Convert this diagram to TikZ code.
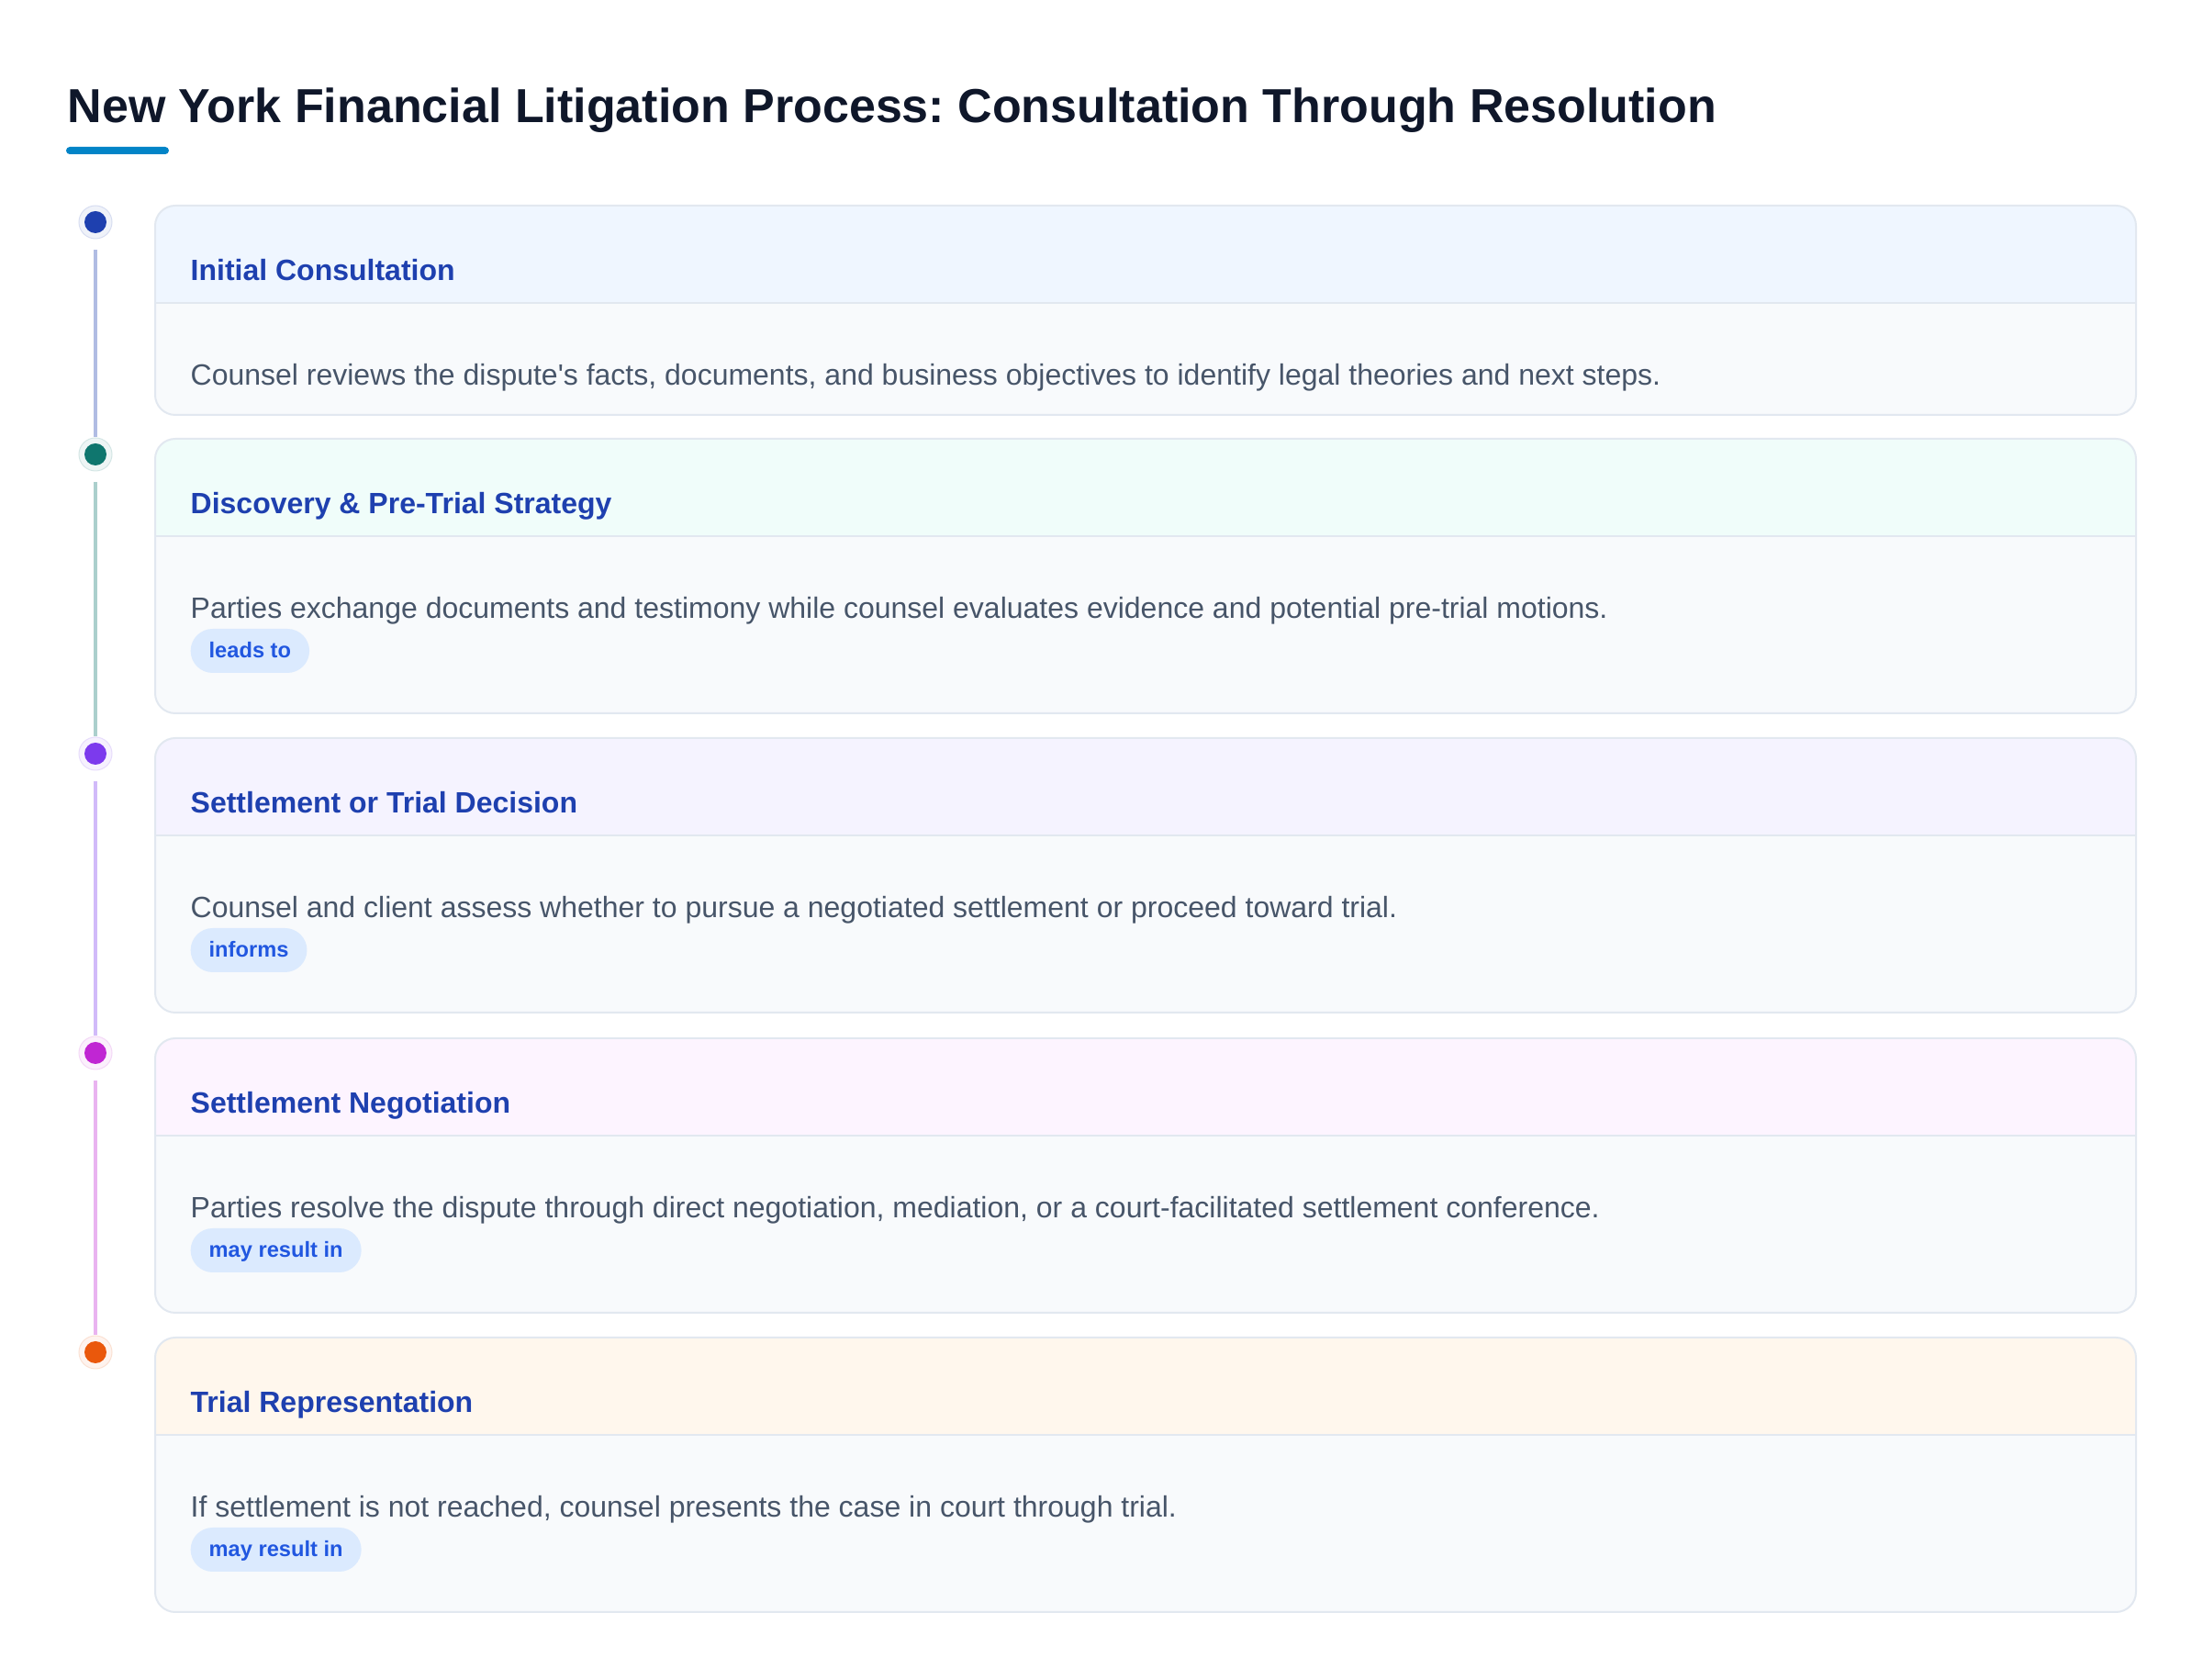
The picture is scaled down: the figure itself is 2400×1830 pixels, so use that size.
\documentclass[tikz,border=0pt]{standalone}
\usepackage{fontspec}
\setmainfont{Liberation Sans}
\usetikzlibrary{calc}
\frenchspacing
\definecolor{titlec}{HTML}{0F172A}
\definecolor{barc}{HTML}{0284C7}
\definecolor{headtxt}{HTML}{1E40AF}
\definecolor{bodytxt}{HTML}{475569}
\definecolor{bodyc}{HTML}{F8FAFC}
\definecolor{borderc}{HTML}{E2E8F0}
\definecolor{pillc}{HTML}{DBEAFE}
\definecolor{pilltxt}{HTML}{2157E0}
\definecolor{hA}{HTML}{EFF6FF}
\definecolor{hB}{HTML}{F0FDFA}
\definecolor{hC}{HTML}{F5F3FF}
\definecolor{hD}{HTML}{FDF4FF}
\definecolor{hE}{HTML}{FFF7ED}
\definecolor{dA}{HTML}{1E40AF}
\definecolor{dB}{HTML}{0F766E}
\definecolor{dC}{HTML}{7C3AED}
\definecolor{dD}{HTML}{C026D3}
\definecolor{dE}{HTML}{EA580C}
\newcommand\mycard[6]{%
  \path[fill=bodyc, rounded corners=6.6pt] (169,#2) rectangle (2327,#3);
  \begin{scope}
    \clip[rounded corners=6.6pt] (169,#2) rectangle (2327,#3);
    \fill[#4] (169,#2) rectangle (2327,#2+106);
  \end{scope}
  \draw[borderc, line width=0.6pt] (169,#2+106) -- (2327,#2+106);
  \draw[borderc, line width=0.6pt, rounded corners=6.6pt] (169,#2) rectangle (2327,#3);
  \node[headstyle] (#1t) at (207,#2+82) {#5};
  \node[bodystyle] (#1b) at (207,#2+196) {#6};
}
\begin{document}
\begin{tikzpicture}[x=0.3pt,y=-0.3pt,
  headstyle/.style={anchor=base west, inner sep=0, text=headtxt, font=\fontsize{9.6pt}{11pt}\selectfont\bfseries},
  bodystyle/.style={anchor=base west, inner sep=0, text=bodytxt, font=\fontsize{9.6pt}{11pt}\selectfont},
  pill/.style={anchor=west, fill=pillc, text=pilltxt, rounded corners=7.2pt, minimum height=14.4pt, inner xsep=6.0pt, inner ysep=0pt, text height=6.2pt, text depth=1.4pt, font=\fontsize{7.1pt}{8.6pt}\selectfont\bfseries},
  halo/.style={circle, minimum size=10.8pt, inner sep=0pt, fill=#1!7!white, draw=#1!18!white, line width=0.3pt,
    path picture={\fill[#1] (path picture bounding box.center) circle (3.6pt);}},
  conn/.style={line width=1.2pt, draw=#1!35!white}]
\useasboundingbox (0,0) rectangle (2400,1830);
\fill[white] (0,0) rectangle (2400,1830);

\node[anchor=base west, inner sep=0, text=titlec, font=\fontsize{15.6pt}{18pt}\selectfont\bfseries] (title) at (73,134) {New York Financial Litigation Process: Consultation Through Resolution};
\fill[barc, rounded corners=1.2pt] (72,160) rectangle (184,168);

\mycard{c1}{224}{452}{hA}{Initial Consultation}{Counsel reviews the dispute\textquotesingle s facts, documents, and business objectives to identify legal theories and next steps.}
\mycard{c2}{478}{777}{hB}{Discovery \& Pre-Trial Strategy}{Parties exchange documents and testimony while counsel evaluates evidence and potential pre-trial motions.}
\mycard{c3}{804}{1103}{hC}{Settlement or Trial Decision}{Counsel and client assess whether to pursue a negotiated settlement or proceed toward trial.}
\mycard{c4}{1131}{1430}{hD}{Settlement Negotiation}{Parties resolve the dispute through direct negotiation, mediation, or a court-facilitated settlement conference.}
\mycard{c5}{1457}{1756}{hE}{Trial Representation}{If settlement is not reached, counsel presents the case in court through trial.}

\node[pill] (p2) at (207,478+231) {leads to};
\node[pill] (p3) at (207,804+231) {informs};
\node[pill] (p4) at (207,1131+231) {may result in};
\node[pill] (p5) at (207,1457+231) {may result in};

\node[halo=dA] (d1) at (104,242) {};
\node[halo=dB] (d2) at (104,495) {};
\node[halo=dC] (d3) at (104,821) {};
\node[halo=dD] (d4) at (104,1147) {};
\node[halo=dE] (d5) at (104,1473) {};

\draw[conn=dA] ([yshift=-3.6pt]d1.south) -- (d2.north);
\draw[conn=dB] ([yshift=-3.6pt]d2.south) -- (d3.north);
\draw[conn=dC] ([yshift=-3.6pt]d3.south) -- (d4.north);
\draw[conn=dD] ([yshift=-3.6pt]d4.south) -- (d5.north);
\end{tikzpicture}
\end{document}
